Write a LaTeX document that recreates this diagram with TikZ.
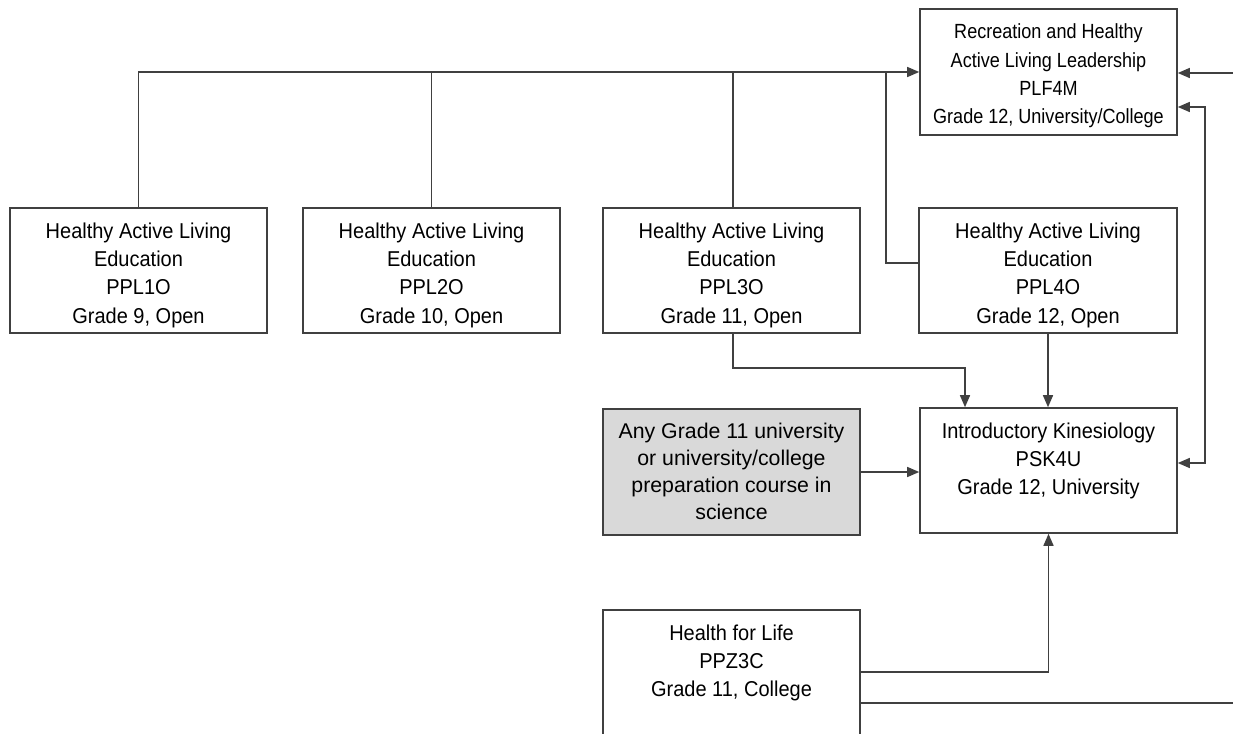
\documentclass[tikz,border=0pt]{standalone}
\usepackage{fontspec}
\setmainfont{Liberation Sans}
\newfontfamily\narrowfont[FakeStretch=0.93]{Liberation Sans}
\newfontfamily\narrowerfont[FakeStretch=0.88]{Liberation Sans}
\usetikzlibrary{arrows.meta}
\definecolor{boxgray}{HTML}{D9D9D9}
\definecolor{linecol}{HTML}{404040}
\tikzset{
  box/.style={draw=linecol, line width=1.6pt, minimum width=257pt, minimum height=125pt, inner sep=0pt},
  txt/.style={align=center, inner sep=0pt, text=black, font=\narrowfont\fontsize{21.5}{28.3}\selectfont},
  ptxt/.style={align=center, inner sep=0pt, text=black, font=\narrowerfont\fontsize{20.5}{28.3}\selectfont},
  gtxt/.style={align=center, inner sep=0pt, text=black, font=\fontsize{21.3}{27}\selectfont},
  conn/.style={draw=linecol, line width=1.4pt},
  arr/.style={conn, -{Triangle[length=12pt,width=10pt]}},
  arrtwo/.style={conn, {Triangle[length=12pt,width=10pt]}-{Triangle[length=12pt,width=10pt]}}
}
\begin{document}
\begin{tikzpicture}[x=1pt,y=-1pt]
\useasboundingbox (0,0) rectangle (1233,733);
\clip (0,0) rectangle (1233,733);
\fill[white] (0,0) rectangle (1233,733);

% boxes
\node[box] (ppl1) at (138.5,270.5) {};
\node[box] (ppl2) at (431.5,270.5) {};
\node[box] (ppl3) at (731.5,270.5) {};
\node[box, minimum width=258pt] (ppl4) at (1048,270.5) {};
\node[box, minimum height=126pt] (plf) at (1048.5,72) {};
\node[box] (psk) at (1048.5,470.5) {};
\node[box, fill=boxgray, minimum height=126pt] (gray) at (731.5,472) {};
\node[box, minimum height=150pt] (hfl) at (731.5,685) {};

% texts
\node[txt] (t1) at (138.5,275) {Healthy Active Living\\Education\\PPL1O\\Grade 9, Open};
\node[txt] (t2) at (431.5,275) {Healthy Active Living\\Education\\PPL2O\\Grade 10, Open};
\node[txt] (t3) at (731.5,275) {Healthy Active Living\\Education\\PPL3O\\Grade 11, Open};
\node[txt] (t4) at (1048,275) {Healthy Active Living\\Education\\PPL4O\\Grade 12, Open};
\node[ptxt] (tplf) at (1048.5,76) {Recreation and Healthy\\Active Living Leadership\\PLF4M\\Grade 12, University/College};
\node[txt] (tpsk) at (1048.5,461) {Introductory Kinesiology\\PSK4U\\Grade 12, University};
\node[gtxt] (tgray) at (731.5,471) {Any Grade 11 university\\or university/college\\preparation course in\\science};
\node[txt] (thfl) at (731.5,663) {Health for Life\\PPZ3C\\Grade 11, College};

% coordinates
\coordinate (bus4) at (886,72);
\coordinate (edgeA) at (1233,73);
\coordinate (edgeB) at (1233,703);

% top bus
\draw[arr] (ppl1.north) |- (plf.west);
\draw[conn] (ppl2.north) -- (ppl2.north |- plf.west);
\draw[conn] ([xshift=1.5pt]ppl3.north) -- ([xshift=1.5pt]ppl3.north |- plf.west);
\draw[conn] ([yshift=7.5pt]ppl4.west) -| (bus4);

% right side
\draw[arr] (edgeA) -- (edgeA -| plf.east);
\draw[arrtwo] ([yshift=-35pt]plf.east) -- ++(27,0) |- ([yshift=7.5pt]psk.east);

% into PSK4U
\draw[arr] ([xshift=1.5pt]ppl3.south) -- ++(0,34) -| ([xshift=-83.5pt]psk.north);
\draw[arr] (ppl4.south) -- (ppl4.south |- psk.north);
\draw[arr] (gray.east) -- (gray.east -| psk.west);
\draw[arr] ([yshift=13pt]hfl.east) -| (psk.south);
\draw[conn] ([yshift=-18pt]hfl.east) -- (edgeB);
\end{tikzpicture}
\end{document}
